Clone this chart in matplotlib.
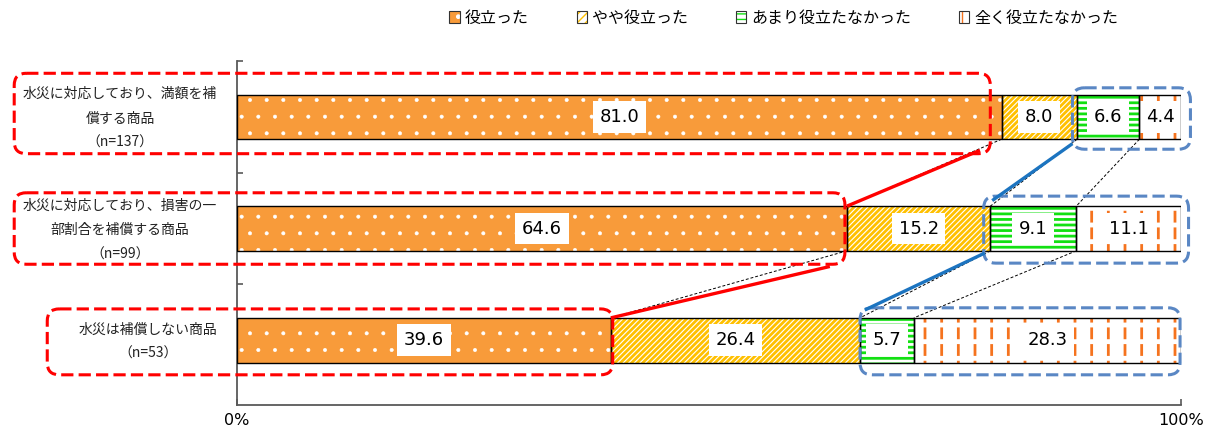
import matplotlib
matplotlib.use('Agg')
import matplotlib.pyplot as plt
from matplotlib.patches import FancyBboxPatch, Patch
import numpy as np

plt.rcParams['font.family'] = ['Noto Sans CJK JP', 'DejaVu Sans']

# ---------------- data ----------------
categories = ['水災に対応しており、満額を補\n償する商品\n（n=137）',
              '水災に対応しており、損害の一\n部割合を補償する商品\n（n=99）',
              '水災は補償しない商品\n（n=53）']
series_names = ['役立った', 'やや役立った', 'あまり役立たなかった', '全く役立たなかった']
useful = [81.0, 64.6, 39.6]
somewhat = [8.0, 15.2, 26.4]
not_much = [6.6, 9.1, 5.7]
not_at_all = [4.4, 11.1, 28.3]
xtick_values = [0, 100]
xtick_labels = ['0%', '100%']

series = [useful, somewhat, not_much, not_at_all]

# ---------------- styles ----------------
styles = [
    dict(fc='#F89B3A', hc='white', hatch='.', hlw=0.4, lhatch='.'),
    dict(fc='white', hc='#FFC000', hatch='//////', hlw=2.0, lhatch='////'),
    dict(fc='white', hc='#12E012', hatch='---', hlw=2.0, lhatch='---'),
    dict(fc='white', hc='#F5731E', hatch='|', hlw=2.0, lhatch='||'),
]

W, H = 1215, 432
fig = plt.figure(figsize=(W / 100, H / 100), dpi=100)
ax = fig.add_axes([237 / W, 1 - 405 / H, (1181 - 237) / W, (405 - 61) / H])

n = len(categories)
ypos = np.arange(n)
bar_h = 0.4


def hatched_barh(y, width, left, st, z=2):
    with plt.rc_context({'hatch.linewidth': st['hlw']}):
        bars = ax.barh(y, width, left=left, height=bar_h, color=st['fc'],
                       edgecolor=st['hc'], hatch=st['hatch'], linewidth=0,
                       zorder=z)
    for b in bars:
        if hasattr(b, 'set_hatch_linewidth'):
            b.set_hatch_linewidth(st['hlw'])
    return bars


left = np.zeros(n)
cums = []
for k, (vals, st) in enumerate(zip(series, styles)):
    vals = np.array(vals)
    hatched_barh(ypos, vals, left, st)
    if k == 3:
        # break the vertical lines into short dashes
        brk = dict(fc='none', hc='white', hatch='-', hlw=3.5)
        hatched_barh(ypos, vals, left, brk, z=2.1)
    ax.barh(ypos, vals, left=left, height=bar_h, color='none',
            edgecolor='black', linewidth=1.0, zorder=4)
    for i in range(n):
        ax.text(left[i] + vals[i] / 2, ypos[i], f'{vals[i]:.1f}',
                ha='center', va='center', fontsize=13, family='DejaVu Sans',
                color='black', zorder=3,
                bbox=dict(boxstyle='square,pad=0.38', fc='white', ec='none'))
    left = left + vals
    cums.append(left.copy())

cums = np.array(cums)  # shape (4, n)

# series lines
for i in range(n - 1):
    for k in range(4):
        ax.plot([cums[k, i], cums[k, i + 1]], [i + bar_h / 2, i + 1 - bar_h / 2],
                color='black', lw=0.7, ls=(0, (3, 2)), zorder=1.5)

ax.set_xlim(0, 100)
ax.set_ylim((405 - 116) / 112, (61 - 116) / 112)
ax.set_xticks(xtick_values)
ax.set_xticklabels(xtick_labels, fontsize=11.5, family='DejaVu Sans')
ax.set_yticks([-0.5, 0.5, 1.5])
ax.set_yticklabels([])
ax.tick_params(axis='x', direction='in', length=4, width=1.2, color='#595959', pad=6)
ax.tick_params(axis='y', direction='in', length=4, width=1.2, color='#595959')
for s in ['top', 'right']:
    ax.spines[s].set_visible(False)
for s in ['left', 'bottom']:
    ax.spines[s].set_color('#595959')
    ax.spines[s].set_linewidth(1.3)

for i, cat in enumerate(categories):
    ax.text(-2.1, ypos[i] + 0.015, cat, ha='right', va='center', ma='center',
            fontsize=10, linespacing=1.95, color='#222222')

# ---------------- overlay decorations ----------------
ov = fig.add_axes([0, 0, 1, 1], zorder=5)
ov.set_xlim(0, W)
ov.set_ylim(H, 0)
ov.axis('off')
ov.patch.set_alpha(0)


def to_ov(x, y):
    return ov.transData.inverted().transform(ax.transData.transform((x, y)))


def rbox(x0, x1, y0, y1, color):
    p0 = to_ov(x0, y0)
    p1 = to_ov(x1, y1)
    xa, xb = sorted([p0[0], p1[0]])
    ya, yb = sorted([p0[1], p1[1]])
    ov.add_patch(FancyBboxPatch((xa, ya), xb - xa, yb - ya,
                                boxstyle='round,pad=0,rounding_size=12',
                                fc='none', ec=color, lw=2.2,
                                ls=(0, (4, 1.7))))


def seg(a, b, color):
    pa = to_ov(*a)
    pb = to_ov(*b)
    ov.plot([pa[0], pb[0]], [pa[1], pb[1]], color=color, lw=2.4,
            solid_capstyle='butt')


red = '#FF0000'
blue_box = '#5A87C4'
blue_line = '#1C74C0'

red_boxes = [(-23.6, useful[0] - 1.2, -0.39, 0.33),
             (-23.6, useful[1] - 0.2, 1 - 0.32, 1 + 0.32),
             (-20.1, useful[2] + 0.2, 2 - 0.28, 2 + 0.31)]
for b in red_boxes:
    rbox(*b, red)

blue_boxes = [(cums[1, 0] - 0.5, 101.0, -0.26, 0.29),
              (cums[1, 1] - 0.7, 100.8, 1 - 0.29, 1 + 0.31),
              (cums[1, 2], 99.9, 2 - 0.29, 2 + 0.31)]
for b in blue_boxes:
    rbox(*b, blue_box)

seg((useful[0] - 2.3, 0.30), (useful[1], 1 - 0.2), red)
seg((useful[1] - 1.8, 1.34), (useful[2], 2 - 0.2), red)
seg((cums[1, 0] - 0.5, 0.24), (cums[1, 1] + 0.2, 1 - 0.25), blue_line)
seg((cums[1, 1] - 0.6, 1.22), (cums[1, 2] + 0.5, 2 - 0.27), blue_line)

# ---------------- legend ----------------
handles = []
for st in styles:
    h1 = Patch(facecolor=st['fc'], edgecolor=st['hc'], hatch=st['lhatch'], linewidth=0)
    h2 = Patch(facecolor='none', edgecolor='#333333', linewidth=0.8)
    handles.append((h1, h2))
fig.legend(handles, series_names, loc='center', bbox_to_anchor=(0.645, 1 - 18 / H),
           ncol=4, frameon=False, fontsize=11.5, handlelength=0.65,
           handleheight=0.8, handletextpad=0.3, columnspacing=3.0)

fig.savefig('out.png', dpi=100)
